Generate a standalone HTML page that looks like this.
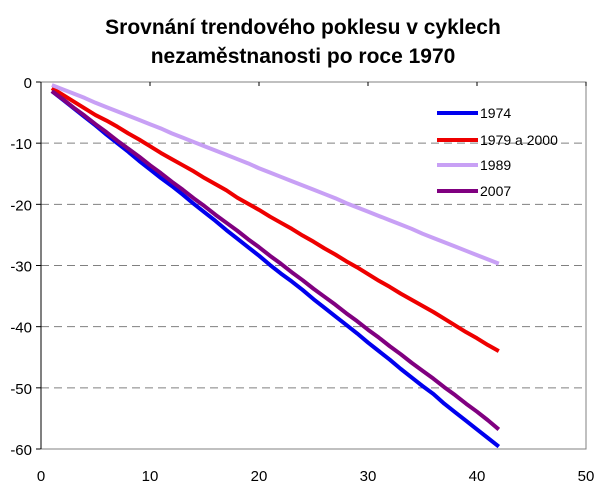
<!DOCTYPE html>
<html><head><meta charset="utf-8"><style>
body{margin:0;background:#fff;width:605px;height:489px;overflow:hidden;font-family:"Liberation Sans",sans-serif}
</style></head><body>
<svg width="605" height="489">
<text x="303" y="34" text-anchor="middle" font-size="21" font-weight="bold" font-family="Liberation Sans, sans-serif">Srovnání trendového poklesu v cyklech</text>
<text x="303" y="63" text-anchor="middle" font-size="21" font-weight="bold" font-family="Liberation Sans, sans-serif">nezaměstnanosti po roce 1970</text>
<g id="grid"></g><g id="axes"></g><g id="series"></g><g id="legend"></g>
</svg>
<script>
const xTicks=[0,10,20,30,40,50];
const yTicks=[0,-10,-20,-30,-40,-50,-60];
const seriesNames=["1974","1979 a 2000","1989","2007"];
const seriesColors=["#0000ee","#ee0000","#c8a0f5","#800080"];
const s1974=[-1.5,-2.9,-4.3,-5.7,-7.1,-8.6,-10.0,-11.4,-12.9,-14.3,-15.7,-17.0,-18.4,-19.9,-21.3,-22.7,-24.2,-25.6,-27.0,-28.4,-29.9,-31.3,-32.6,-34.0,-35.5,-36.9,-38.3,-39.7,-41.1,-42.6,-44.0,-45.4,-46.9,-48.3,-49.7,-51.0,-52.6,-54.0,-55.4,-56.8,-58.2,-59.6];
const s1979=[-1.0,-2.1,-3.2,-4.3,-5.4,-6.3,-7.3,-8.4,-9.4,-10.5,-11.6,-12.6,-13.6,-14.6,-15.7,-16.7,-17.7,-18.9,-19.9,-20.9,-22.0,-23.0,-24.0,-25.1,-26.1,-27.2,-28.2,-29.3,-30.3,-31.4,-32.5,-33.5,-34.6,-35.6,-36.6,-37.6,-38.7,-39.8,-40.9,-41.9,-43.0,-44.0];
const s1989=[-0.5,-1.2,-1.9,-2.6,-3.4,-4.1,-4.8,-5.5,-6.2,-6.9,-7.6,-8.4,-9.1,-9.8,-10.5,-11.2,-11.9,-12.6,-13.3,-14.1,-14.8,-15.5,-16.2,-16.9,-17.6,-18.3,-19.0,-19.8,-20.5,-21.2,-21.9,-22.6,-23.3,-24.0,-24.8,-25.5,-26.2,-26.9,-27.6,-28.3,-29.0,-29.7];
const s2007=[-1.5,-2.8,-4.2,-5.5,-6.9,-8.2,-9.6,-10.9,-12.2,-13.6,-14.9,-16.3,-17.6,-19.0,-20.3,-21.7,-23.0,-24.3,-25.7,-27.0,-28.4,-29.7,-31.1,-32.4,-33.8,-35.1,-36.4,-37.8,-39.1,-40.5,-41.8,-43.2,-44.5,-45.9,-47.2,-48.5,-49.9,-51.2,-52.6,-53.9,-55.3,-56.8];
const NS="http://www.w3.org/2000/svg";
const L=41,R=586,T=82,B=449;
const xs=v=>L+(v-0)/(50-0)*(R-L);
const ys=v=>T+(0-v)/(0+60)*(B-T);
function mk(tag,attrs,parent){const e=document.createElementNS(NS,tag);for(const k in attrs)e.setAttribute(k,attrs[k]);document.getElementById(parent).appendChild(e);return e;}
yTicks.forEach(v=>{
 if(v!==0&&v!==-60){const g=mk("line",{x1:L,x2:R,y1:ys(v),y2:ys(v),stroke:"#808080","stroke-dasharray":"8,5","stroke-width":1},"grid");
 
 }
 const tk=mk("line",{x1:L-5,x2:L,y1:ys(v),y2:ys(v),stroke:"#000"},"axes");
 
 
 const t=mk("text",{x:L-9,y:ys(v)+6,"text-anchor":"end","font-size":15,fill:"#000"},"axes");t.textContent=v;
 
 
});
const box=mk("rect",{x:L,y:T,width:R-L,height:B-T,fill:"none",stroke:"#808080"},"axes");


const ya=mk("line",{x1:L,x2:L,y1:T,y2:B,stroke:"#000"},"axes");


xTicks.forEach(v=>{
 const tk=mk("line",{x1:xs(v),x2:xs(v),y1:T,y2:T+4,stroke:"#000"},"axes");
 
 
 const t=mk("text",{x:xs(v),y:481,"text-anchor":"middle","font-size":15,fill:"#000"},"axes");t.textContent=v;
 
 
});
[s1974,s1979,s1989,s2007].forEach((arr,i)=>{
 const pts=arr.map((v,j)=>xs(j+1)+","+ys(v)).join(" ");
 const p=mk("polyline",{points:pts,fill:"none",stroke:seriesColors[i],"stroke-width":4,"stroke-linejoin":"round"},"series");
 
 
});
const ly=[113,140,165,191];
seriesNames.forEach((n,i)=>{
 const l=mk("line",{x1:437,x2:478,y1:ly[i],y2:ly[i],stroke:seriesColors[i],"stroke-width":4},"legend");
 
 
 const t=mk("text",{x:480,y:ly[i]+5,"font-size":14,fill:"#000"},"legend");t.textContent=n;
 
 
});
</script>
</body></html>
